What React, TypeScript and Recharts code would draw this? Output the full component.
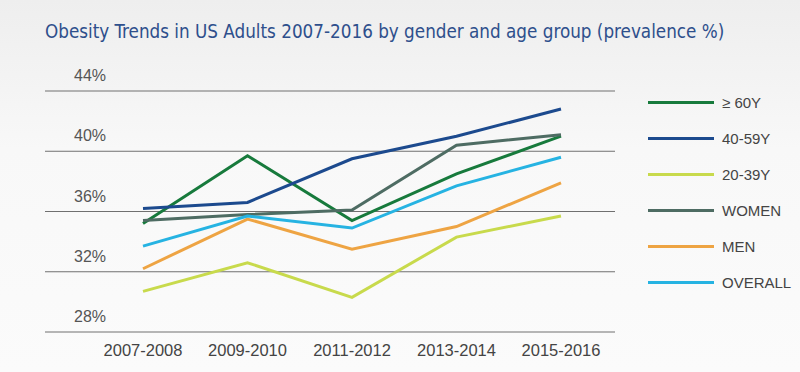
import { CartesianGrid, Legend, Line, LineChart, XAxis, YAxis } from "recharts";

const periods = ["2007-2008", "2009-2010", "2011-2012", "2013-2014", "2015-2016"];

const age60plus = [35.2, 39.7, 35.4, 38.5, 41.0];
const age40to59 = [36.2, 36.6, 39.5, 41.0, 42.8];
const age20to39 = [30.7, 32.6, 30.3, 34.3, 35.7];
const women = [35.4, 35.8, 36.1, 40.4, 41.1];
const men = [32.2, 35.5, 33.5, 35.0, 37.9];
const overall = [33.7, 35.7, 34.9, 37.7, 39.6];

const yTicks = [28, 32, 36, 40, 44];

const series = [
  { key: "age60plus", name: "≥ 60Y", color: "#177a3c" },
  { key: "age40to59", name: "40-59Y", color: "#1c4a8e" },
  { key: "age20to39", name: "20-39Y", color: "#c8da4c" },
  { key: "women", name: "WOMEN", color: "#4e6c63" },
  { key: "men", name: "MEN", color: "#eea443" },
  { key: "overall", name: "OVERALL", color: "#26b3e2" },
];

const chartData = periods.map((period, i) => ({
  period,
  age60plus: age60plus[i],
  age40to59: age40to59[i],
  age20to39: age20to39[i],
  women: women[i],
  men: men[i],
  overall: overall[i],
}));

const font = "'Liberation Sans', Arial, sans-serif";

const renderYTick = ({ y, payload }: any) => (
  <text
    key={payload.value}
    x={90}
    y={y - 10}
    textAnchor="middle"
    fontSize={16}
    fill="#555"
    fontFamily={font}
  >
    {`${payload.value}%`}
  </text>
);

function LegendBox() {
  return (
    <div style={{ fontFamily: font }}>
      {series.map((s) => (
        <div
          key={s.key}
          style={{ display: "flex", alignItems: "center", height: 36 }}
        >
          <div
            style={{ width: 66, height: 3, background: s.color, marginRight: 8 }}
          />
          <span style={{ fontSize: 15, color: "#444" }}>{s.name}</span>
        </div>
      ))}
    </div>
  );
}

export default function App() {
  return (
    <div
      style={{
        position: "absolute",
        left: 0,
        top: 0,
        width: 800,
        height: 372,
        background: "linear-gradient(#eeeeee, #f8f8f8 40%, #fbfbfb)",
      }}
    >
      <div
        style={{
          position: "absolute",
          left: 45,
          top: 21,
          fontFamily: "'DejaVu Sans Condensed', Roboto, sans-serif",
          fontSize: 18.7,
          color: "#2e4f8c",
          whiteSpace: "nowrap",
        }}
      >
        Obesity Trends in US Adults 2007-2016 by gender and age group (prevalence %)
      </div>
      <LineChart
        width={800}
        height={372}
        data={chartData}
        margin={{ top: 91, right: 185, bottom: 10, left: 0 }}
      >
        <CartesianGrid vertical={false} stroke="#707070" strokeWidth={1.2} />
        <XAxis
          dataKey="period"
          axisLine={false}
          tickLine={false}
          height={30}
          padding={{ left: 98, right: 54 }}
          tick={{ fontSize: 16.5, fill: "#444", fontFamily: font, dy: 4 }}
          interval={0}
        />
        <YAxis
          width={45}
          domain={[28, 44]}
          ticks={yTicks}
          interval={0}
          axisLine={false}
          tickLine={false}
          tick={renderYTick}
        />
        <Legend
          layout="vertical"
          align="center"
          verticalAlign="middle"
          content={<LegendBox />}
          wrapperStyle={{ left: 648, top: 84, width: 150 }}
        />
        {series.map((s) => (
          <Line
            key={s.key}
            dataKey={s.key}
            name={s.name}
            stroke={s.color}
            strokeWidth={3}
            dot={false}
            activeDot={false}
            isAnimationActive={false}
          />
        ))}
      </LineChart>
    </div>
  );
}
